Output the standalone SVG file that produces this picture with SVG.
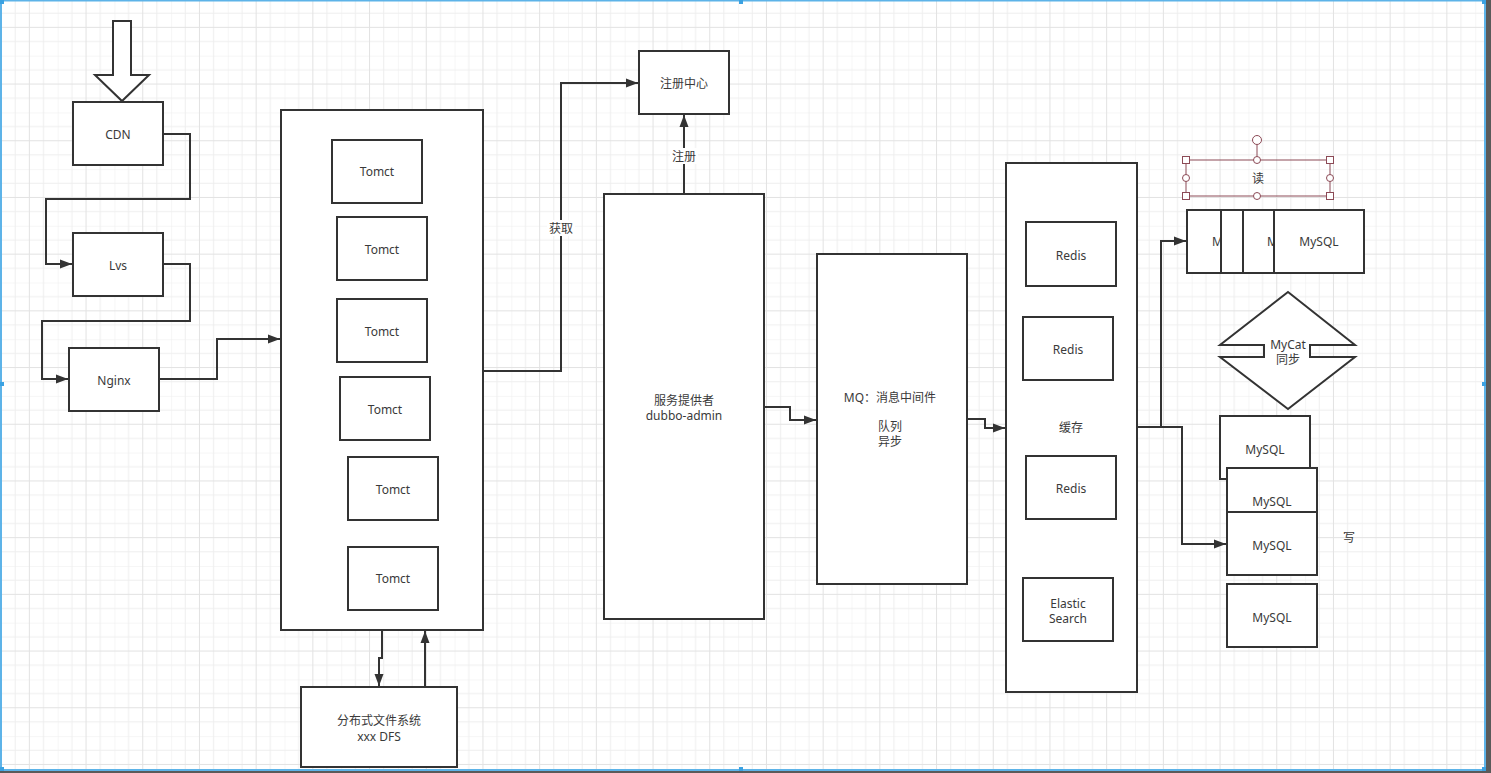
<svg xmlns="http://www.w3.org/2000/svg" width="1491" height="773" viewBox="0 0 1491 773">
<defs>
<pattern id="grid" patternUnits="userSpaceOnUse" x="1" y="-1" width="56.7" height="56.7">
<path d="M0,0 V56.7 M14.17,0 V56.7 M42.5,0 V56.7 M0,0 H56.7 M0,14.17 H56.7 M0,42.5 H56.7" stroke="#eeeeee" stroke-width="1" fill="none"/>
<path d="M28.35,0 V56.7 M0,28.35 H56.7" stroke="#e2e2e2" stroke-width="1" fill="none"/>
</pattern>
<marker id="arr" markerUnits="userSpaceOnUse" markerWidth="13" markerHeight="10" refX="12" refY="5" orient="auto">
<path d="M0,0.5 L12,5 L0,9.5 Z" fill="#333"/>
</marker>
<style>
.b{fill:#fff;stroke:#333;stroke-width:2}
.c{fill:none;stroke:#333;stroke-width:2}
.t{font-family:"Noto Sans","Noto Sans CJK SC",sans-serif;font-size:12px;fill:#3a3a3a;text-anchor:middle;dominant-baseline:central}
.ts{font-family:"Noto Sans","Noto Sans CJK SC",sans-serif;font-size:12px;fill:#3a3a3a;dominant-baseline:central}
.s{fill:#fff;stroke:#8c4a56;stroke-width:1}
.h{fill:#3ba2e2}
</style>
</defs>
<rect x="0" y="0" width="1491" height="773" fill="#fff"/>
<rect x="0" y="0" width="1485" height="770" fill="url(#grid)"/>
<rect x="1486" y="0" width="5" height="773" fill="#5a5a5a"/>
<rect x="0" y="771" width="1491" height="2" fill="#5a5a5a"/>
<rect x="1" y="0.5" width="1484" height="769.5" fill="none" stroke="#5db3e8" stroke-width="2"/>
<g id="frame-handles">
<rect class="h" x="0" y="0" width="4" height="4"/>
<rect class="h" x="739" y="0" width="4" height="4"/>
<rect class="h" x="1482" y="0" width="4" height="4"/>
<rect class="h" x="0" y="382" width="4" height="4"/>
<rect class="h" x="1482" y="382" width="4" height="4"/>
<rect class="h" x="0" y="767" width="4" height="4"/>
<rect class="h" x="739" y="767" width="4" height="4"/>
<rect class="h" x="1482" y="767" width="4" height="4"/>
</g>

<g id="entry-arrow">
<path class="b" d="M113,21 H131 V75 H149 L122,101 L95,75 H113 Z"/>
</g>

<g id="cdn"><rect class="b" x="73" y="102" width="90" height="63"/><text class="t" x="118" y="134">CDN</text></g>
<g id="lvs"><rect class="b" x="73" y="233" width="90" height="63"/><text class="t" x="118" y="265">Lvs</text></g>
<g id="nginx"><rect class="b" x="69" y="348" width="90" height="63"/><text class="t" x="114" y="380">Nginx</text></g>

<g id="tomcat-cluster">
<rect class="b" x="281" y="110" width="202" height="520"/>
</g>
<g id="tomcat1"><rect class="b" x="332" y="140" width="90" height="63"/><text class="t" x="377" y="171">Tomct</text></g>
<g id="tomcat2"><rect class="b" x="337" y="217" width="90" height="63"/><text class="t" x="382" y="249">Tomct</text></g>
<g id="tomcat3"><rect class="b" x="337" y="299" width="90" height="63"/><text class="t" x="382" y="331">Tomct</text></g>
<g id="tomcat4"><rect class="b" x="340" y="377" width="90" height="63"/><text class="t" x="385" y="409">Tomct</text></g>
<g id="tomcat5"><rect class="b" x="348" y="457" width="90" height="63"/><text class="t" x="393" y="489">Tomct</text></g>
<g id="tomcat6"><rect class="b" x="348" y="547" width="90" height="63"/><text class="t" x="393" y="578">Tomct</text></g>

<g id="dfs"><rect class="b" x="301" y="687" width="156" height="80"/><text class="t" x="379" y="720">分布式文件系统</text><text class="t" x="379" y="736">xxx DFS</text></g>

<g id="registry"><rect class="b" x="639" y="51" width="90" height="63"/><text class="t" x="684" y="83">注册中心</text></g>
<g id="provider"><rect class="b" x="604" y="194" width="160" height="425"/><text class="t" x="684" y="400">服务提供者</text><text class="t" x="684" y="415">dubbo-admin</text></g>

<g id="mq"><rect class="b" x="817" y="254" width="150" height="330"/><text class="t" x="890" y="397">MQ：消息中间件</text><text class="t" x="890" y="426">队列</text><text class="t" x="890" y="441">异步</text></g>

<g id="cache"><rect class="b" x="1006" y="163" width="131" height="529"/><text class="t" x="1071" y="427">缓存</text></g>
<g id="redis1"><rect class="b" x="1026" y="222" width="90" height="64"/><text class="t" x="1071" y="255">Redis</text></g>
<g id="redis2"><rect class="b" x="1023" y="317" width="90" height="63"/><text class="t" x="1068" y="349">Redis</text></g>
<g id="redis3"><rect class="b" x="1026" y="456" width="90" height="63"/><text class="t" x="1071" y="488">Redis</text></g>
<g id="elastic"><rect class="b" x="1023" y="578" width="90" height="63"/><text class="t" x="1068" y="603">Elastic</text><text class="t" x="1068" y="618">Search</text></g>

<g id="read-mysql">
<rect class="b" x="1187" y="210" width="90" height="63"/><text class="ts" x="1212" y="241">M</text>
<rect class="b" x="1221" y="210" width="90" height="63"/>
<rect class="b" x="1243" y="210" width="90" height="63"/><text class="ts" x="1267" y="241">M</text>
<rect class="b" x="1274" y="210" width="90" height="63"/><text class="t" x="1319" y="241">MySQL</text>
</g>

<g id="read-label">
<line x1="1257" y1="145" x2="1257" y2="160" stroke="#8c4a56" stroke-width="1"/>
<rect x="1186" y="160" width="144" height="36" fill="none" stroke="#8c4a56" stroke-width="1"/>
<text class="t" x="1258" y="178">读</text>
<circle class="s" cx="1257" cy="140" r="4.5"/>
<rect class="s" x="1182.5" y="156.5" width="7" height="7"/>
<rect class="s" x="1326.5" y="156.5" width="7" height="7"/>
<rect class="s" x="1182.5" y="192.5" width="7" height="7"/>
<rect class="s" x="1326.5" y="192.5" width="7" height="7"/>
<circle class="s" cx="1257" cy="160" r="3.5"/>
<circle class="s" cx="1257" cy="196" r="3.5"/>
<circle class="s" cx="1186" cy="178" r="3.5"/>
<circle class="s" cx="1330" cy="178" r="3.5"/>
</g>

<g id="mycat">
<path class="b" d="M1288,292 L1355,345 L1310,345 L1310,357 L1355,357 L1288,409 L1220,357 L1264,357 L1264,345 L1220,345 Z"/>
<text class="t" x="1288" y="344">MyCat</text>
<text class="t" x="1288" y="359">同步</text>
</g>

<g id="write-mysql">
<rect class="b" x="1220" y="416" width="90" height="63"/><text class="t" x="1265" y="449">MySQL</text>
<rect class="b" x="1227" y="468" width="90" height="63"/><text class="t" x="1272" y="501">MySQL</text>
<rect class="b" x="1227" y="512" width="90" height="63"/><text class="t" x="1272" y="545">MySQL</text>
<rect class="b" x="1227" y="584" width="90" height="63"/><text class="t" x="1272" y="617">MySQL</text>
<text class="t" x="1349" y="537">写</text>
</g>

<g id="connectors">
<path class="c" d="M163,134 H190 V199 H46 V264 H72" marker-end="url(#arr)"/>
<path class="c" d="M163,264 H190 V321 H42 V379 H68" marker-end="url(#arr)"/>
<path class="c" d="M159,379 H217 V339 H280" marker-end="url(#arr)"/>
<path class="c" d="M382,630 V658 H379 V686" marker-end="url(#arr)"/>
<path class="c" d="M425,687 V631" marker-end="url(#arr)"/>
<path class="c" d="M483,371 H561 V83 H638" marker-end="url(#arr)"/>
<rect x="547" y="220" width="28" height="16" fill="#fff"/>
<text class="t" x="561" y="228">获取</text>
<path class="c" d="M684,194 V115" marker-end="url(#arr)"/>
<rect x="670" y="148" width="28" height="16" fill="#fff"/>
<text class="t" x="684" y="156">注册</text>
<path class="c" d="M764,407 H790 V420 H816" marker-end="url(#arr)"/>
<path class="c" d="M967,419 H985 V428 H1005" marker-end="url(#arr)"/>
<path class="c" d="M1137,427 H1161 V241 H1186" marker-end="url(#arr)"/>
<path class="c" d="M1161,427 H1182 V544 H1226" marker-end="url(#arr)"/>
</g>
</svg>
